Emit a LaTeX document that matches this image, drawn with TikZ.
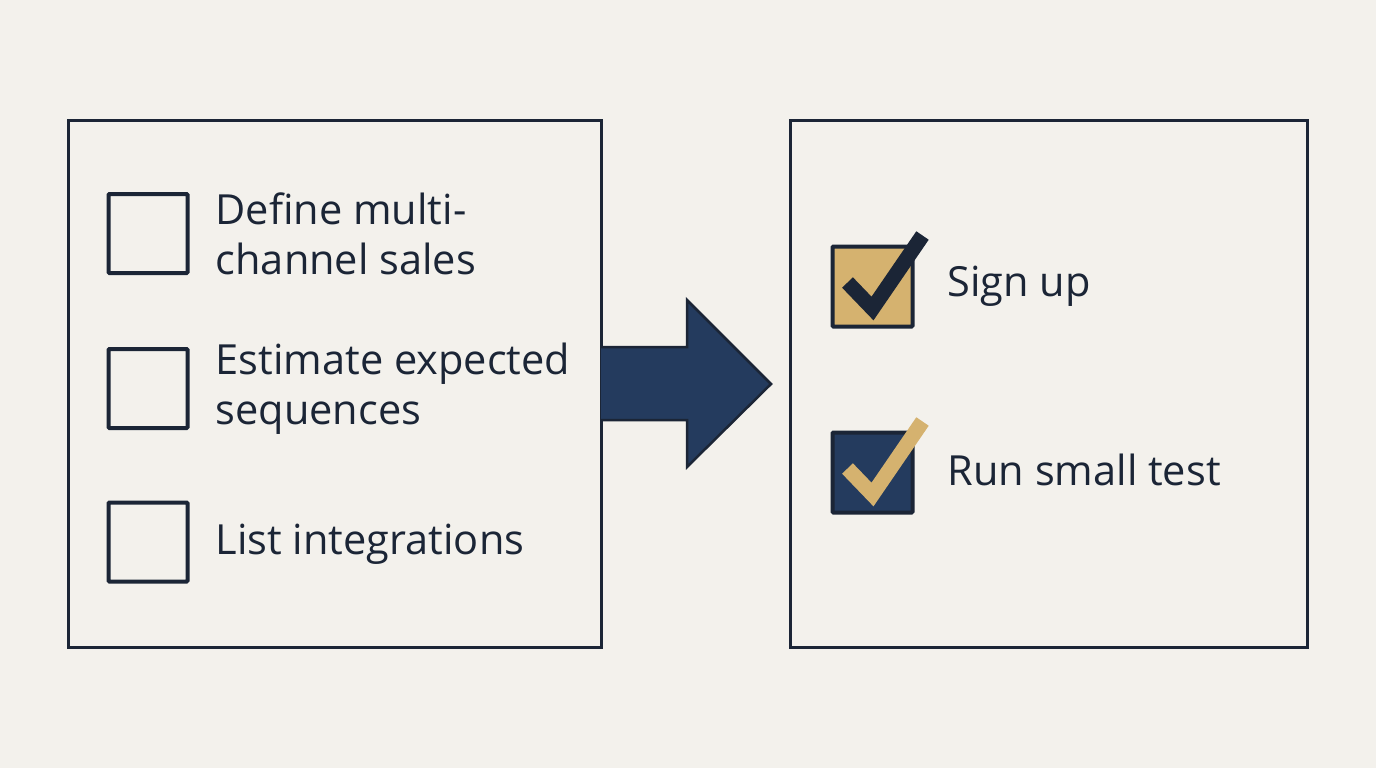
\documentclass[tikz,border=0pt]{standalone}
\usepackage{fontspec}
\setmainfont{Open Sans}
\usepackage{xcolor}
\usetikzlibrary{positioning}
\definecolor{paper}{HTML}{F3F1EC}
\definecolor{ink}{HTML}{1B2536}
\definecolor{navy}{HTML}{243B5E}
\definecolor{gold}{HTML}{D5B26F}

\begin{document}
\begin{tikzpicture}[x=1pt, y=-1pt,
  panel/.style={draw=ink, line width=3pt, minimum width=533pt, minimum height=527pt, inner sep=0pt},
  todo/.style={draw=ink, line width=4pt, minimum size=79pt, inner sep=0pt, rounded corners=1pt},
  done/.style={todo, minimum size=80pt},
  item/.style={inner sep=0pt, align=left, text=ink, font=\fontsize{41.5}{50}\selectfont},
  tick/.style={line width=15pt, line cap=butt, line join=miter}]
  % background
  \fill[paper] (0,0) rectangle (1376,768);
  \useasboundingbox (0,0) rectangle (1376,768);
  % panels
  \node[panel] (before) at (334.5,383.5) {};
  \node[panel, minimum width=517pt] (after) at (1048.5,383.5) {};
  % open tasks
  \node[todo] (b1) at (148,233.5) {};
  \node[todo] (b2) at (148,388.5) {};
  \node[todo] (b3) at (148,542) {};
  \node[item, right=26pt of b1] (t1) {Define multi-\\channel sales};
  \node[item, right=26pt of b2] (t2) {Estimate expected\\sequences};
  \node[item, right=26pt of b3, yshift=-2pt] (t3) {List integrations};
  % arrow between panels
  \fill[navy, draw=ink, line width=2.5pt, line join=miter]
    (601,347) -- (687,347) -- (687,300) -- (771,384) -- (687,467) -- (687,420) -- (601,420);
  % finished tasks
  \node[done, fill=gold] (c1) at (872.5,286.5) {};
  \node[done, fill=navy] (c2) at (872.5,472.5) {};
  \draw[tick, ink] ([shift={(-25,-4)}]c1.center) -- ([shift={(0,22)}]c1.center) -- ([shift={(50,-51)}]c1.center);
  \draw[tick, gold] ([shift={(-25,-4)}]c2.center) -- ([shift={(0,22)}]c2.center) -- ([shift={(50,-51)}]c2.center);
  \node[item, right=33pt of c1] (d1) {Sign up};
  \node[item, right=33pt of c2, yshift=3pt] (d2) {Run small test};
\end{tikzpicture}
\end{document}
